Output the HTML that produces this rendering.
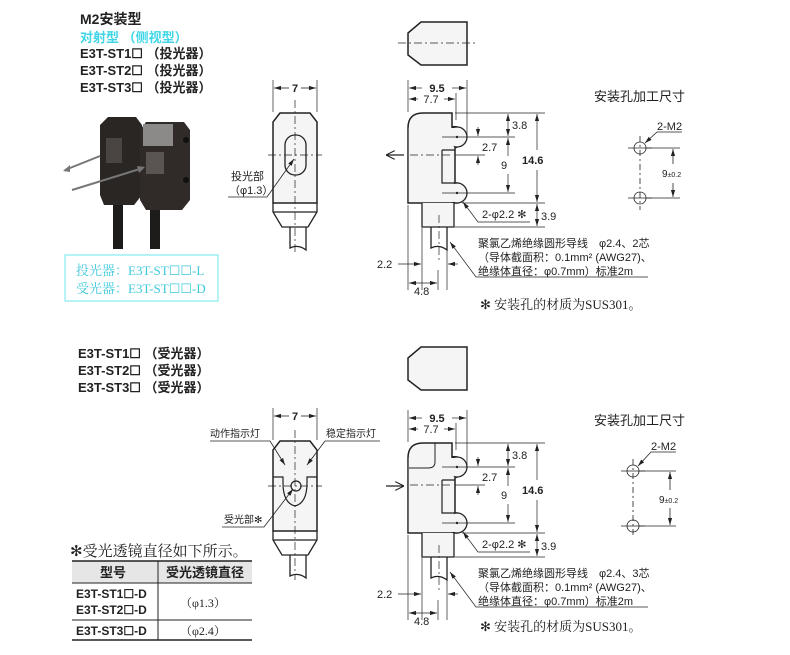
<!DOCTYPE html>
<html><head><meta charset="utf-8"><style>
html,body{margin:0;padding:0;background:#fff;}
svg{display:block;}
text{font-family:"Liberation Sans","Noto Sans CJK SC",sans-serif;fill:#222;}
.s{font-family:"Liberation Serif","Noto Serif CJK SC",serif;}
.b{font-weight:bold;}
</style></head><body>
<svg width="790" height="655" viewBox="0 0 790 655" xmlns="http://www.w3.org/2000/svg">
<defs>
<marker id="a" viewBox="0 0 10 10" refX="10" refY="5" markerWidth="7" markerHeight="7" markerUnits="userSpaceOnUse" orient="auto-start-reverse"><path d="M0,2 L10,5 L0,8 z" fill="#222"/></marker>
<marker id="o" viewBox="0 0 10 10" refX="10" refY="5" markerWidth="9" markerHeight="9" markerUnits="userSpaceOnUse" orient="auto"><path d="M0,0 L10,5 L0,10" fill="none" stroke="#222" stroke-width="1.2"/></marker>
</defs>

<text x="80" y="24" font-size="14" class="b">M2安装型</text>
<text x="80" y="42" font-size="13" class="b" style="fill:#3ed6e6">对射型 （侧视型）</text>
<text x="80" y="58" font-size="13" class="b">E3T-ST1☐ （投光器）</text>
<text x="80" y="75" font-size="13" class="b">E3T-ST2☐ （投光器）</text>
<text x="80" y="92" font-size="13" class="b">E3T-ST3☐ （投光器）</text>

<g>
<path d="M100,125 L108,117 L136,117 L142,125 L142,195 L134,205 L104,205 L100,195 z" fill="#2a2624"/>
<path d="M140,130 L146,122 L184,122 L190,130 L190,200 L182,210 L146,210 L140,200 z" fill="#302b28"/>
<rect x="143" y="124" width="30" height="22" fill="#8c8a88"/>
<rect x="146" y="152" width="18" height="22" fill="#5a5552"/>
<rect x="106" y="138" width="16" height="25" fill="#4a4542"/>
<circle cx="186" cy="140" r="3" fill="#111"/><circle cx="186" cy="180" r="3" fill="#111"/>
<rect x="113" y="205" width="10" height="44" fill="#1e1c1b"/>
<rect x="150" y="210" width="10" height="39" fill="#1e1c1b"/>
<line x1="100" y1="156" x2="65" y2="170" stroke="#777" stroke-width="2"/>
<path d="M63,171 L70,165 L70,172z" fill="#777"/>
<line x1="72" y1="190" x2="143" y2="168" stroke="#777" stroke-width="2"/>
<path d="M145,167 L137,166 L139,173z" fill="#777"/>
</g>
<rect x="65" y="255" width="153" height="46" fill="none" stroke="#6ee6ee" stroke-width="1"/>
<text x="76" y="275" font-size="13" class="s" style="fill:#3ec8dc">投光器：E3T-ST☐☐-L</text>
<text x="76" y="293" font-size="13" class="s" style="fill:#3ec8dc">受光器：E3T-ST☐☐-D</text>

<g fill="none" stroke="#222" stroke-width="1">
<path d="M280,113 L310,113 L317,122 L317,203 L273,203 L273,122 z" fill="#f5f5f5" stroke-width="1.5"/>
<path d="M273,203 L273,212 L282,227 L308,227 L317,212 L317,203 M273,212 L317,212" stroke-width="1.3"/>
<path d="M290,227 L290,248 Q298,244 306,250 L306,227" stroke-width="1.3"/>
<rect x="285" y="135" width="21" height="40" rx="10" stroke-width="1.3"/>
<line x1="295" y1="100" x2="295" y2="252" stroke-dasharray="8,3,2,3" stroke-width="0.7"/>
<line x1="268" y1="155" x2="322" y2="155" stroke-dasharray="8,3,2,3" stroke-width="0.7"/>
<line x1="273" y1="80" x2="273" y2="112" stroke-width="0.7"/><line x1="317" y1="80" x2="317" y2="112" stroke-width="0.7"/>
<line x1="274" y1="88" x2="289" y2="88" marker-start="url(#a)" stroke-width="0.8"/><line x1="301" y1="88" x2="316" y2="88" marker-end="url(#a)" stroke-width="0.8"/>
<path d="M228,197 L267,197 L294,159" marker-end="url(#a)" stroke-width="0.8"/>

<path d="M280,441 L310,441 L317,450 L317,531 L273,531 L273,450 z" fill="#f5f5f5" stroke-width="1.5"/>
<path d="M273,531 L273,540 L282,555 L308,555 L317,540 L317,531 M273,540 L317,540" stroke-width="1.3"/>
<path d="M290,555 L290,576 Q298,572 306,578 L306,555" stroke-width="1.3"/>
<path d="M273,477 L283,477 L283,483 Q283,503 295,506 Q307,503 307,483 L307,477 L317,477" stroke-width="1.2"/>
<circle cx="296" cy="486" r="5" stroke-width="1.2"/>
<line x1="295" y1="430" x2="295" y2="580" stroke-dasharray="8,3,2,3" stroke-width="0.7"/>
<line x1="268" y1="486" x2="322" y2="486" stroke-dasharray="8,3,2,3" stroke-width="0.7"/>
<line x1="273" y1="408" x2="273" y2="440" stroke-width="0.7"/><line x1="317" y1="408" x2="317" y2="440" stroke-width="0.7"/>
<line x1="274" y1="416" x2="289" y2="416" marker-start="url(#a)" stroke-width="0.8"/><line x1="301" y1="416" x2="316" y2="416" marker-end="url(#a)" stroke-width="0.8"/>
<path d="M210,441 L270,441 L285,465" marker-end="url(#a)" stroke-width="0.8"/>
<path d="M380,441 L325,441 L307,465" marker-end="url(#a)" stroke-width="0.8"/>
<path d="M222,527 L264,527 L293,489" marker-end="url(#a)" stroke-width="0.8"/>

<path d="M421,22 L467,22 L467,65 L421,65 L408,55 L408,33 z" fill="#f5f5f5" stroke-width="1.5"/>
<line x1="398" y1="43" x2="478" y2="43" stroke-dasharray="8,3,2,3" stroke-width="0.7"/>
<path d="M421,347 L467,347 L467,390 L421,390 L408,380 L408,358 z" fill="#f5f5f5" stroke-width="1.5"/>

<line x1="404" y1="155" x2="386" y2="155" marker-end="url(#o)" stroke-width="1.2"/>
<line x1="386" y1="486" x2="404" y2="486" marker-end="url(#o)" stroke-width="1.2"/>
</g>

<defs>
<g id="side" fill="none" stroke="#222">
<path d="M408,203 L408,128 Q408,113 423,113 L452,113 L452,127 A10,10 0 0 1 457,147 L455,148 L455,183 A10,10 0 0 1 462,201 L458,203 z" fill="#f5f5f5" stroke-width="1.5"/>
<circle cx="457" cy="137" r="10" fill="#f5f5f5" stroke-width="1.3"/>
<circle cx="457" cy="193" r="10" fill="#f5f5f5" stroke-width="1.3"/>
<rect x="408.8" y="128" width="45" height="74" fill="#f5f5f5" stroke="none"/>
<path d="M442,150 L455,150 M442,150 L442,183 L455,183" stroke-width="1.2"/>
<circle cx="457" cy="137" r="1.2" fill="#222" stroke="none"/><circle cx="457" cy="193" r="1.2" fill="#222" stroke="none"/>
<path d="M422,203 L422,227 L454,227 L454,203" fill="#f5f5f5" stroke-width="1.3"/>
<path d="M431,227 L431,248 Q439,244 447,250 L447,227" stroke-width="1.3"/>
<line x1="439" y1="215" x2="439" y2="260" stroke-dasharray="8,3,2,3" stroke-width="0.7"/>
<line x1="410" y1="155" x2="452" y2="155" stroke-dasharray="8,3,2,3" stroke-width="0.7"/>
<g stroke-width="0.7">
<line x1="408" y1="80" x2="408" y2="112"/><line x1="467" y1="80" x2="467" y2="135"/><line x1="456" y1="93" x2="456" y2="120"/>
<line x1="409" y1="88" x2="422" y2="88" marker-start="url(#a)"/><line x1="452" y1="88" x2="466" y2="88" marker-end="url(#a)"/>
<line x1="409" y1="99" x2="418" y2="99" marker-start="url(#a)"/><line x1="444" y1="99" x2="455" y2="99" marker-end="url(#a)"/>
<line x1="455" y1="113" x2="545" y2="113"/><line x1="462" y1="203" x2="545" y2="203"/><line x1="455" y1="227" x2="545" y2="227"/>
<line x1="442" y1="137" x2="515" y2="137"/><line x1="442" y1="193" x2="515" y2="193"/><line x1="455" y1="155" x2="485" y2="155"/>
<line x1="508" y1="114" x2="508" y2="136" marker-start="url(#a)" marker-end="url(#a)"/>
<line x1="508" y1="138" x2="508" y2="156" marker-start="url(#a)"/><line x1="508" y1="174" x2="508" y2="192" marker-end="url(#a)"/>
<line x1="478" y1="127" x2="478" y2="136" marker-end="url(#a)"/><line x1="478" y1="165" x2="478" y2="156" marker-end="url(#a)"/>
<line x1="537" y1="114" x2="537" y2="150" marker-start="url(#a)"/><line x1="537" y1="170" x2="537" y2="202" marker-end="url(#a)"/>
<line x1="537" y1="204" x2="537" y2="226" marker-start="url(#a)" marker-end="url(#a)"/>
<path d="M530,222 L478,222 L463,202" marker-end="url(#a)"/>
<line x1="422" y1="228" x2="422" y2="290"/><line x1="447" y1="250" x2="447" y2="290"/><line x1="408" y1="205" x2="408" y2="290"/><line x1="438" y1="270" x2="438" y2="290"/>
<line x1="398" y1="264" x2="421" y2="264" marker-end="url(#a)"/><line x1="458" y1="264" x2="448" y2="264" marker-end="url(#a)"/>
<line x1="409" y1="283" x2="437" y2="283" marker-start="url(#a)" marker-end="url(#a)"/>
<path d="M648,277 L476,277 L450,242" marker-end="url(#a)"/>
</g>
</g>
</defs>
<use href="#side"/>
<use href="#side" transform="translate(0,330)"/>
<path d="M423,443 L435,443 L435,462 Q435,468 428,468 L409,468" fill="none" stroke="#222" stroke-width="1"/>

<g font-size="11">
<text x="437" y="92" class="b" text-anchor="middle">9.5</text>
<text x="431" y="103" text-anchor="middle">7.7</text>
<text x="512" y="129">3.8</text>
<text x="482" y="151">2.7</text>
<text x="501" y="169">9</text>
<text x="522" y="164" class="b">14.6</text>
<text x="541" y="220">3.9</text>
<text x="482" y="218">2-φ2.2 ✻</text>
<text x="377" y="268">2.2</text>
<text x="414" y="295">4.8</text>
<text x="478" y="247">聚氯乙烯绝缘圆形导线　φ2.4、2芯</text>
<text x="478" y="261">（导体截面积：0.1mm² (AWG27)、</text>
<text x="478" y="275">绝缘体直径：φ0.7mm）标准2m</text>
<text x="295" y="92" class="b" text-anchor="middle">7</text>
<text x="231" y="180">投光部</text>
<text x="229" y="194">（φ1.3）</text>
</g>
<text x="480" y="309" font-size="13" class="s">✻ 安装孔的材质为SUS301。</text>

<g font-size="11">
<text x="437" y="422" class="b" text-anchor="middle">9.5</text>
<text x="431" y="433" text-anchor="middle">7.7</text>
<text x="512" y="459">3.8</text>
<text x="482" y="481">2.7</text>
<text x="501" y="499">9</text>
<text x="522" y="494" class="b">14.6</text>
<text x="541" y="550">3.9</text>
<text x="482" y="548">2-φ2.2 ✻</text>
<text x="377" y="598">2.2</text>
<text x="414" y="625">4.8</text>
<text x="478" y="577">聚氯乙烯绝缘圆形导线　φ2.4、3芯</text>
<text x="478" y="591">（导体截面积：0.1mm² (AWG27)、</text>
<text x="478" y="605">绝缘体直径：φ0.7mm）标准2m</text>
<text x="295" y="420" class="b" text-anchor="middle">7</text>
<text x="210" y="437" font-size="10">动作指示灯</text>
<text x="326" y="437" font-size="10">稳定指示灯</text>
<text x="224" y="523" font-size="10">受光部✻</text>
</g>
<text x="480" y="631" font-size="13" class="s">✻ 安装孔的材质为SUS301。</text>

<text x="594" y="101" font-size="13">安装孔加工尺寸</text>
<g fill="none" stroke="#222" stroke-width="0.8">
<circle cx="640" cy="148" r="6"/><circle cx="640" cy="198" r="6"/>
<line x1="628" y1="148" x2="652" y2="148"/><line x1="628" y1="198" x2="652" y2="198"/>
<line x1="640" y1="136" x2="640" y2="210" stroke-dasharray="6,3,2,3"/>
<line x1="646" y1="148" x2="680" y2="148"/><line x1="646" y1="198" x2="680" y2="198"/>
<line x1="673" y1="149" x2="673" y2="164" marker-start="url(#a)"/><line x1="673" y1="183" x2="673" y2="197" marker-end="url(#a)"/>
<path d="M682,132 L657,132 L645,143" marker-end="url(#a)"/>
</g>
<text x="657" y="130" font-size="11">2-M2</text>
<text x="662" y="177" font-size="10">9<tspan font-size="7">±0.2</tspan></text>

<text x="594" y="425" font-size="13">安装孔加工尺寸</text>
<g fill="none" stroke="#222" stroke-width="0.8">
<circle cx="633" cy="471" r="6"/><circle cx="633" cy="526" r="6"/>
<line x1="621" y1="471" x2="645" y2="471"/><line x1="621" y1="526" x2="645" y2="526"/>
<line x1="633" y1="459" x2="633" y2="538" stroke-dasharray="6,3,2,3"/>
<line x1="639" y1="471" x2="676" y2="471"/><line x1="639" y1="526" x2="676" y2="526"/>
<line x1="670" y1="472" x2="670" y2="490" marker-start="url(#a)"/><line x1="670" y1="508" x2="670" y2="525" marker-end="url(#a)"/>
<path d="M676,452 L651,452 L638,466" marker-end="url(#a)"/>
</g>
<text x="651" y="450" font-size="11">2-M2</text>
<text x="659" y="503" font-size="10">9<tspan font-size="7">±0.2</tspan></text>

<text x="78" y="358" font-size="13" class="b">E3T-ST1☐ （受光器）</text>
<text x="78" y="375" font-size="13" class="b">E3T-ST2☐ （受光器）</text>
<text x="78" y="392" font-size="13" class="b">E3T-ST3☐ （受光器）</text>

<text x="70" y="556" font-size="15" class="s">✻受光透镜直径如下所示。</text>
<rect x="72" y="561" width="180" height="22" fill="#e6e6e6"/>
<g stroke="#222" fill="none">
<line x1="72" y1="561" x2="252" y2="561" stroke-width="1.5"/>
<line x1="72" y1="583" x2="252" y2="583" stroke-width="1"/>
<line x1="72" y1="620" x2="252" y2="620" stroke-width="1"/>
<line x1="72" y1="640" x2="252" y2="640" stroke-width="1.5"/>
<line x1="158" y1="561" x2="158" y2="640" stroke-width="1"/>
</g>
<text x="100" y="577" font-size="13" class="b">型号</text>
<text x="166" y="577" font-size="13" class="b">受光透镜直径</text>
<text x="76" y="598" font-size="12" class="b">E3T-ST1☐-D</text>
<text x="76" y="614" font-size="12" class="b">E3T-ST2☐-D</text>
<text x="180" y="607" font-size="12" class="s">（φ1.3）</text>
<text x="76" y="635" font-size="12" class="b">E3T-ST3☐-D</text>
<text x="180" y="635" font-size="12" class="s">（φ2.4）</text>
</svg>
</body></html>
